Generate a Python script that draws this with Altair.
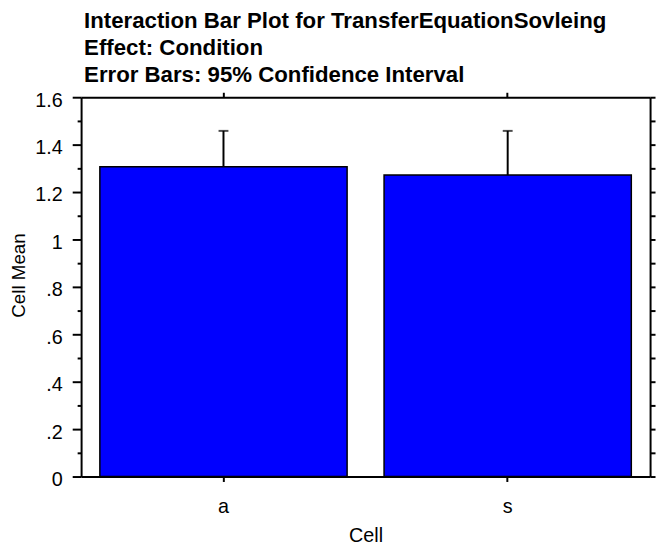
import altair as alt
import pandas as pd

# data
cells = ["a", "s"]
means = [1.307, 1.272]
upper = [1.458, 1.458]
y_ticks = [0, 0.1, 0.2, 0.3, 0.4, 0.5, 0.6, 0.7, 0.8, 0.9, 1.0,
           1.1, 1.2, 1.3, 1.4, 1.5, 1.6]
title_lines = [
    "Interaction Bar Plot for TransferEquationSovleing",
    "Effect: Condition",
    "Error Bars: 95% Confidence Interval",
]

df = pd.DataFrame({"Cell": cells, "mean": means, "upper": upper})

FONT = "Liberation Sans"

xscale = alt.Scale(paddingInner=0.13, paddingOuter=0.066)
yscale = alt.Scale(domain=[0, 1.6], nice=False, zero=True)

label_expr = ("round(datum.value*10) % 2 != 0 ? '' : "
              "(datum.value == 0 ? '0' : (datum.value < 1 ? "
              "replace(format(datum.value, '.1f'), '0.', '.') : format(datum.value, '~g')))")

bars = alt.Chart(df).mark_bar(
    fill="#0000FF", stroke="black", strokeWidth=1.5
).encode(
    x=alt.X("Cell:N", scale=xscale, sort=cells,
            axis=alt.Axis(orient="bottom", title="Cell", labelAngle=0, grid=False,
                          tickSize=5, tickWidth=2, domainWidth=2,
                          domainColor="black", tickColor="black",
                          labelFont=FONT, labelFontSize=20, labelColor="black",
                          labelPadding=15,
                          titleFont=FONT, titleFontSize=20, titleFontWeight="normal",
                          titleColor="black", titlePadding=10)),
    y=alt.Y("mean:Q", scale=yscale,
            axis=alt.Axis(orient="left", title="Cell Mean", values=y_ticks, grid=False,
                          labelExpr=label_expr, labelOverlap=False,
                          tickSize={"condition": {"test": "round(datum.value*10) % 2 == 0", "value": 9}, "value": 4},
                          tickWidth=2, domainWidth=2, domainColor="black",
                          tickColor="black", labelFont=FONT, labelFontSize=20,
                          labelColor="black", labelPadding=10, labelOffset=3,
                          titleFont=FONT, titleFontSize=19, titleFontWeight="normal",
                          titleColor="black", titleAngle=-90,
                          titleBaseline="alphabetic", titleAlign="center",
                          titleX=-57, titleY=180)),
)

err = alt.Chart(df).mark_rule(color="black", strokeWidth=2).encode(
    x=alt.X("Cell:N", scale=xscale, sort=cells,
            axis=alt.Axis(orient="top", title=None, labels=False, tickSize=5, grid=False,
                          tickWidth=2, domainWidth=2, domainColor="black",
                          tickColor="black")),
    y=alt.Y("mean:Q", scale=yscale,
            axis=alt.Axis(orient="right", title=None, labels=False, grid=False,
                          values=y_ticks, tickSize=5, tickWidth=2,
                          domainWidth=2, domainColor="black", tickColor="black")),
    y2="upper:Q",
)

caps = alt.Chart(df).mark_tick(color="black", thickness=2, size=10).encode(
    x=alt.X("Cell:N", scale=xscale, sort=cells, axis=None),
    y=alt.Y("upper:Q", scale=yscale, axis=None),
)

chart = alt.layer(bars, err, caps).resolve_axis(
    x="independent", y="independent"
).properties(
    width=576,
    height=384,
    padding={"left": 74, "top": 87, "right": 6, "bottom": 67},
    autosize=alt.AutoSizeParams(type="none"),
    title=alt.TitleParams(
        text=title_lines, anchor="start", frame="group", font=FONT, fontSize=22.5,
        fontWeight="bold", color="black", lineHeight=27.2, dx=3, dy=24,
        baseline="alphabetic", offset=10,
    ),
).configure_view(stroke=None).configure(background="white")

chart.save("out.html", embed_options={"renderer": "svg", "actions": False})
